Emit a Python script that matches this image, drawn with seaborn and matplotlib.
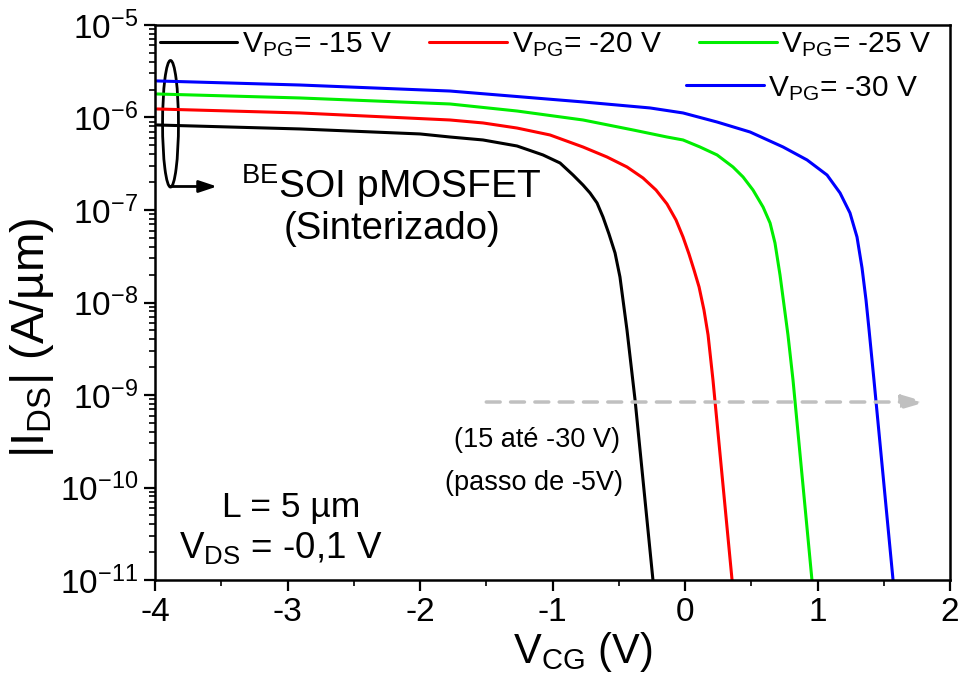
import numpy as np
import pandas as pd
import matplotlib
matplotlib.use("Agg")
import matplotlib.pyplot as plt
from matplotlib.patches import Ellipse
from matplotlib.lines import Line2D
import seaborn as sns

# Transfer curves: V_CG (V) and log10(|I_DS| in A/µm) for each back-gate bias V_PG
v_pg15 = [-3.985, -2.906, -2.000, -1.774, -1.525, -1.268, -1.072, -0.943, -0.845,
          -0.770, -0.717, -0.664, -0.619, -0.574, -0.528, -0.491, -0.468, -0.438,
          -0.377, -0.242]
log_i_pg15 = [-6.081, -6.124, -6.178, -6.211, -6.243, -6.308, -6.405, -6.492, -6.622,
              -6.730, -6.816, -6.924, -7.076, -7.259, -7.465, -7.724, -7.973, -8.297,
              -9.054, -11.0]

v_pg20 = [-3.985, -2.906, -1.774, -1.525, -1.268, -1.019, -0.770, -0.589, -0.438,
          -0.317, -0.219, -0.136, -0.068, -0.015, 0.030, 0.068, 0.106, 0.143, 0.174,
          0.211, 0.355]
log_i_pg20 = [-5.908, -5.951, -6.027, -6.059, -6.114, -6.189, -6.319, -6.427, -6.535,
              -6.654, -6.784, -6.935, -7.108, -7.292, -7.476, -7.649, -7.832, -8.081,
              -8.351, -8.838, -11.0]

v_pg25 = [-3.985, -2.906, -1.774, -1.268, -0.770, -0.392, -0.136, -0.015, 0.113,
          0.242, 0.362, 0.438, 0.513, 0.589, 0.642, 0.679, 0.717, 0.747, 0.777,
          0.815, 0.958]
log_i_pg25 = [-5.746, -5.789, -5.854, -5.930, -6.027, -6.135, -6.211, -6.243, -6.319,
              -6.405, -6.535, -6.643, -6.784, -6.968, -7.141, -7.357, -7.703, -8.027,
              -8.351, -8.838, -11.0]

v_pg30 = [-3.985, -2.906, -1.774, -0.770, -0.264, -0.015, 0.242, 0.491, 0.740,
          0.921, 1.072, 1.170, 1.245, 1.298, 1.336, 1.366, 1.389, 1.426, 1.570]
log_i_pg30 = [-5.605, -5.649, -5.714, -5.832, -5.897, -5.951, -6.049, -6.157, -6.319,
              -6.459, -6.622, -6.816, -7.032, -7.292, -7.627, -7.973, -8.297, -8.838,
              -11.0]

series_labels = ["V$_{\\mathrm{PG}}$= -15 V", "V$_{\\mathrm{PG}}$= -20 V",
                 "V$_{\\mathrm{PG}}$= -25 V", "V$_{\\mathrm{PG}}$= -30 V"]
series_colors = ["#000000", "#ff0000", "#00ee00", "#0000ff"]

x_ticks = [-4, -3, -2, -1, 0, 1, 2]

frames = []
for lab, v, lg in zip(series_labels, [v_pg15, v_pg20, v_pg25, v_pg30],
                      [log_i_pg15, log_i_pg20, log_i_pg25, log_i_pg30]):
    frames.append(pd.DataFrame({"V_CG": v, "I_DS": 10.0 ** np.asarray(lg), "serie": lab}))
df = pd.concat(frames, ignore_index=True)

sns.set_theme(style="ticks")
plt.rcParams["font.family"] = ["Liberation Sans", "DejaVu Sans"]
plt.rcParams["mathtext.fontset"] = "custom"
plt.rcParams["mathtext.rm"] = "Liberation Sans"
plt.rcParams["mathtext.it"] = "Liberation Sans:italic"
plt.rcParams["mathtext.bf"] = "Liberation Sans:bold"
plt.rcParams["text.color"] = "black"
plt.rcParams["axes.labelcolor"] = "black"

fig = plt.figure(figsize=(9.64, 6.75), dpi=100)
ax = fig.add_axes([0.1608, 0.1407, 0.8247, 0.8223])

sns.lineplot(data=df, x="V_CG", y="I_DS", hue="serie", palette=series_colors,
             hue_order=series_labels, estimator=None, sort=False, linewidth=2.2,
             legend=False, ax=ax)
for ln in ax.lines:
    ln.set_solid_joinstyle("round")

ax.set_yscale("log")
ax.set_xlim(-4, 2)
ax.set_ylim(1e-11, 1e-5)
ax.set_xticks(x_ticks)
ax.set_xticklabels([str(t) for t in x_ticks])
ax.xaxis.set_minor_locator(matplotlib.ticker.MultipleLocator(0.5))
ax.yaxis.set_major_locator(matplotlib.ticker.LogLocator(base=10, numticks=20))
ax.yaxis.set_minor_locator(matplotlib.ticker.LogLocator(base=10, subs=np.arange(2, 10), numticks=200))
ax.yaxis.set_minor_formatter(matplotlib.ticker.NullFormatter())

ax.tick_params(axis="both", which="major", direction="out", length=8, width=1.6,
               labelsize=24, color="black", labelcolor="black", pad=4)
ax.tick_params(axis="both", which="minor", direction="out", length=4.5, width=1.2,
               color="black")
ax.tick_params(axis="y", which="both", right=False)
ax.tick_params(axis="x", which="both", top=False)
for sp in ax.spines.values():
    sp.set_visible(True)
    sp.set_linewidth(1.8)
    sp.set_color("black")

ax.set_xlabel("V$_{\\mathrm{CG}}$ (V)", fontsize=30)
ax.set_ylabel("|I$_{\\mathrm{DS}}$| (A/µm)", fontsize=34)
ax.xaxis.set_label_coords(0.538, -0.090)
ax.yaxis.set_label_coords(-0.125, 0.437)

# legend: three entries on the first row, the fourth under the third
handles = [Line2D([], [], color=c, lw=2.2) for c in series_colors]
leg1 = ax.legend(handles[:3], series_labels[:3], loc="center left",
                 bbox_to_anchor=(0.006, 0.964), ncol=3, frameon=False,
                 fontsize=21.5, handlelength=2.6, handletextpad=0.15,
                 columnspacing=1.25, borderpad=0, borderaxespad=0)
ax.add_artist(leg1)
ax.legend(handles[3:], series_labels[3:], loc="center left",
          bbox_to_anchor=(0.668, 0.886), frameon=False, fontsize=21.5,
          handlelength=2.6, handletextpad=0.15, borderpad=0, borderaxespad=0)

# ellipse grouping the on-currents and its pointer to the device label
ax.add_patch(Ellipse((0.0195, 0.822), 0.020, 0.228, transform=ax.transAxes,
                     fill=False, edgecolor="black", lw=2))
ax.annotate("", xy=(0.078, 0.709), xytext=(0.0195, 0.709),
            xycoords="axes fraction", textcoords="axes fraction",
            arrowprops=dict(arrowstyle="-|>,head_length=0.9,head_width=0.3",
                            color="black", lw=2, shrinkA=0, shrinkB=0))
ax.text(0.297, 0.711, "$^{\\mathrm{BE}}$SOI pMOSFET", transform=ax.transAxes,
        ha="center", va="center", fontsize=28)
ax.text(0.298, 0.632, "(Sinterizado)", transform=ax.transAxes,
        ha="center", va="center", fontsize=27.5)

# gray dashed arrow showing the V_PG sweep direction
ax.annotate("", xy=(1.82, 8.4e-10), xytext=(-1.5, 8.4e-10),
            arrowprops=dict(arrowstyle="-|>,head_length=1.2,head_width=0.35",
                            color="#c0c0c0", lw=2.5, linestyle=(0, (4, 3)),
                            shrinkA=0, shrinkB=0))
ax.text(0.480, 0.252, "(15 até -30 V)", transform=ax.transAxes,
        ha="center", va="center", fontsize=19.5)
ax.text(0.477, 0.175, "(passo de -5V)", transform=ax.transAxes,
        ha="center", va="center", fontsize=19.5)

ax.text(0.171, 0.130, "L = 5 µm", transform=ax.transAxes,
        ha="center", va="center", fontsize=25.5)
ax.text(0.158, 0.058, "V$_{\\mathrm{DS}}$ = -0,1 V", transform=ax.transAxes,
        ha="center", va="center", fontsize=26.5)

fig.savefig("out.png", dpi=100, facecolor="white")
